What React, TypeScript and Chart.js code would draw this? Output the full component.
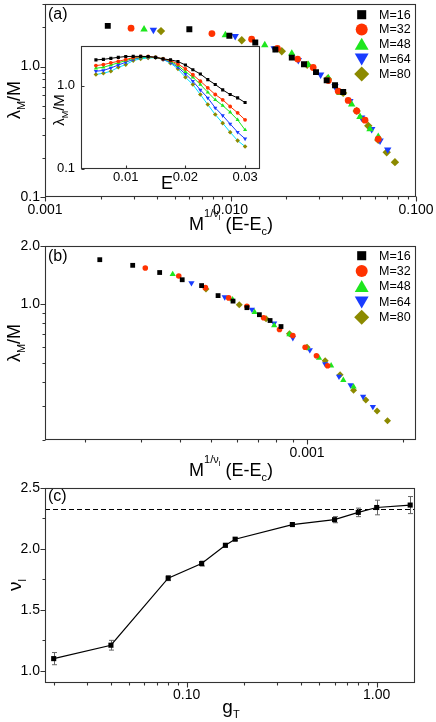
import React, { useEffect, useRef } from 'react';
import { Chart, registerables } from 'chart.js';

Chart.register(...registerables);

const FONT = "'Liberation Sans', Arial, Helvetica, sans-serif";

// ---------- series styling ----------
const seriesLabels = ['M=16', 'M=32', 'M=48', 'M=64', 'M=80'];
const markerColors = ['#000000', '#ff3200', '#1ee61e', '#193cff', '#8c8a00'];
const insetLineColors = ['#000000', '#ff3200', '#1ee61e', '#193cff', '#00e1ff'];
const markerStyles = ['rect', 'circle', 'triangle', 'triangle', 'rectRot'];
const markerRotations = [0, 0, 0, 180, 0];

// ---------- panel (a): scaled data ----------
const a16X = [0.00218, 0.006, 0.00986, 0.0136, 0.01746, 0.0214, 0.0249, 0.0289, 0.033, 0.0366, 0.0405];
const a16Y = [2.05, 1.93, 1.72, 1.53, 1.35, 1.17, 1.04, 0.906, 0.783, 0.718, 0.639];
const a32X = [0.00291, 0.00794, 0.013, 0.0179, 0.023, 0.0279, 0.0337, 0.0381, 0.0431, 0.0479, 0.0531, 0.0626];
const a32Y = [1.97, 1.79, 1.62, 1.38, 1.14, 0.983, 0.78, 0.647, 0.55, 0.457, 0.388, 0.278];
const a48X = [0.00342, 0.00938, 0.0153, 0.0214, 0.0263, 0.0337, 0.0389, 0.045, 0.0499, 0.0565, 0.0626];
const a48Y = [1.93, 1.74, 1.46, 1.26, 1.03, 0.816, 0.628, 0.513, 0.411, 0.331, 0.29];
const a64X = [0.00384, 0.0106, 0.0172, 0.0232, 0.0306, 0.0366, 0.044, 0.0509, 0.0577, 0.064, 0.0704];
const a64Y = [1.91, 1.71, 1.38, 1.12, 0.865, 0.705, 0.543, 0.406, 0.331, 0.27, 0.231];
const a80X = [0.00422, 0.0115, 0.0189, 0.0259, 0.0334, 0.0405, 0.0479, 0.0553, 0.0626, 0.0695, 0.077];
const a80Y = [1.87, 1.59, 1.31, 1.03, 0.807, 0.628, 0.457, 0.351, 0.274, 0.22, 0.185];

// ---------- inset: raw lambda_M/M vs E ----------
const insetE = [0.005, 0.00625, 0.0075, 0.00875, 0.01, 0.01125, 0.0125, 0.01375, 0.015, 0.01625, 0.0175,
  0.01875, 0.02, 0.02125, 0.0225, 0.02375, 0.025, 0.02625, 0.0275, 0.02875, 0.03];
const in16 = [2.04, 2.07, 2.13, 2.19, 2.24, 2.25, 2.25, 2.24, 2.19, 2.1, 2.04, 1.95, 1.77, 1.55, 1.38, 1.18, 1.03, 0.887, 0.78, 0.71, 0.624];
const in32 = [1.74, 1.79, 1.88, 1.96, 2.06, 2.17, 2.24, 2.24, 2.19, 2.1, 2.0, 1.82, 1.59, 1.35, 1.13, 0.94, 0.78, 0.673, 0.559, 0.469, 0.386];
const in48 = [1.62, 1.66, 1.77, 1.88, 2.0, 2.13, 2.19, 2.21, 2.19, 2.1, 1.96, 1.74, 1.47, 1.26, 1.03, 0.83, 0.673, 0.574, 0.477, 0.386, 0.292];
const in64 = [1.49, 1.52, 1.63, 1.77, 1.91, 2.07, 2.17, 2.19, 2.19, 2.07, 1.91, 1.66, 1.38, 1.13, 0.887, 0.71, 0.538, 0.435, 0.345, 0.274, 0.228];
const in80 = [1.36, 1.41, 1.49, 1.66, 1.79, 2.0, 2.1, 2.15, 2.17, 2.07, 1.86, 1.59, 1.26, 1.03, 0.78, 0.59, 0.447, 0.352, 0.274, 0.217, 0.184];

// ---------- panel (b): scaled data ----------
const b16X = [0.000223, 0.000283, 0.000344, 0.000405, 0.000466, 0.000525, 0.000585, 0.000647, 0.000708, 0.000765, 0.000828];
const b16Y = [1.7, 1.59, 1.46, 1.34, 1.25, 1.11, 1.04, 0.962, 0.885, 0.826, 0.769];
const b32X = [0.00031, 0.000395, 0.000479, 0.000567, 0.000647, 0.00073, 0.000819, 0.000902, 0.000986, 0.00107, 0.00116];
const b32Y = [1.54, 1.4, 1.22, 1.08, 0.977, 0.853, 0.742, 0.691, 0.601, 0.544, 0.483];
const b48X = [0.000378, 0.000583, 0.000684, 0.000788, 0.00088, 0.000998, 0.00109, 0.00119, 0.0013, 0.0014];
const b48Y = [1.43, 1.06, 0.912, 0.778, 0.7, 0.597, 0.53, 0.483, 0.407, 0.376];
const b64X = [0.000433, 0.000551, 0.000671, 0.000788, 0.000902, 0.00102, 0.00114, 0.00126, 0.00137, 0.0015, 0.00161];
const b64Y = [1.29, 1.09, 0.942, 0.8, 0.672, 0.582, 0.493, 0.425, 0.384, 0.335, 0.297];
const b80X = [0.000481, 0.000612, 0.000743, 0.00088, 0.001, 0.00114, 0.00127, 0.0014, 0.00153, 0.00166, 0.00179];
const b80Y = [1.2, 0.996, 0.843, 0.705, 0.601, 0.513, 0.434, 0.361, 0.322, 0.282, 0.251];

// ---------- panel (c): nu_l vs g_T ----------
const nuG = [0.02, 0.04, 0.08, 0.12, 0.16, 0.18, 0.36, 0.6, 0.8, 1.0, 1.5];
const nuV = [1.1, 1.21, 1.76, 1.88, 2.03, 2.08, 2.2, 2.24, 2.3, 2.34, 2.36];
const nuErr = [0.05, 0.04, 0.02, 0.02, 0.015, 0.012, 0.012, 0.025, 0.035, 0.06, 0.07];
const nuRef = 2.33;

// ---------- axis ranges & tick labels ----------
const aXRange = [0.001, 0.1];
const aYRange = [0.1, 3];
const aXTicks = [0.001, 0.01, 0.1];
const aXTickLabels = ['0.001', '0.010', '0.100'];
const aYTicks = [0.1, 1];
const aYTickLabels = ['0.1', '1.0'];

const bXRange = [0.00015, 0.0022];
const bYRange = [0.2, 2];
const bXTicks = [0.001];
const bXTickLabels = ['0.001'];
const bYTicks = [1, 2];
const bYTickLabels = ['1.0', '2.0'];

const cXRange = [0.018, 1.59];
const cYRange = [0.9, 2.5];
const cXTicks = [0.1, 1];
const cXTickLabels = ['0.10', '1.00'];
const cYTicks = [1.0, 1.5, 2.0, 2.5];
const cYTickLabels = ['1.0', '1.5', '2.0', '2.5'];
const cYMinor = [1.25, 1.75, 2.25];

const insetXRange = [0.0025, 0.0325];
const insetYRange = [0.1, 3];
const insetXTicks = [0.01, 0.02, 0.03];
const insetXTickLabels = ['0.01', '0.02', '0.03'];
const insetYTicks = [0.1, 1];
const insetYTickLabels = ['0.1', '1.0'];

// ---------- helpers ----------
function decadeMinors(lowExp: number, highExp: number): number[] {
  const out: number[] = [];
  for (let e = lowExp; e <= highExp; e++) {
    for (let k = 2; k <= 9; k++) out.push(Number((k * Math.pow(10, e)).toPrecision(6)));
  }
  return out;
}

type TickSpec = { value: number; major: boolean; txt: string };

function axis(type: string, pos: string, range: number[], majors: number[], labels: string[], minors: number[],
  size: number, fontSize: number, tickLen: number, pad: number) {
  const [min, max] = range;
  const spec: TickSpec[] = [
    ...majors.map((v, i) => ({ value: v, major: true, txt: labels[i] })),
    ...minors.map((v) => ({ value: v, major: false, txt: '' })),
  ].filter((t) => t.value >= min * (1 - 1e-9) && t.value <= max * (1 + 1e-9)).sort((p, q) => p.value - q.value);
  return {
    type,
    position: pos,
    min,
    max,
    offset: false,
    afterBuildTicks: (s: any) => {
      s.ticks = spec.map((t) => ({ value: t.value, major: t.major, txt: t.txt }));
    },
    afterFit: (s: any) => {
      if (pos === 'bottom') s.height = size; else s.width = size;
      s.paddingLeft = 0; s.paddingRight = 0; s.paddingTop = 0; s.paddingBottom = 0;
    },
    ticks: {
      autoSkip: false, maxRotation: 0, minRotation: 0, padding: pad, color: '#000',
      font: { family: FONT, size: fontSize },
      callback: (_v: any, i: number, ts: any[]) => (ts[i] && ts[i].txt) || '',
    },
    grid: {
      display: true, drawOnChartArea: false, drawTicks: true, tickLength: tickLen,
      color: 'rgba(0,0,0,0)', tickColor: 'rgba(0,0,0,0)',
    },
    border: { display: false },
  };
}

function frameTicksPlugin(outward: boolean, majorLen: number, minorLen: number) {
  return {
    id: 'frameTicks',
    afterDatasetsDraw(chart: any) {
      const { ctx, chartArea: a } = chart;
      const sx = chart.scales.x, sy = chart.scales.y;
      ctx.save();
      ctx.strokeStyle = '#333';
      ctx.lineWidth = 1.1;
      const l = Math.round(a.left) + 0.5, t = Math.round(a.top) + 0.5;
      const r = Math.round(a.right) - 0.5, b = Math.round(a.bottom) - 0.5;
      ctx.strokeRect(l, t, r - l, b - t);
      ctx.beginPath();
      const d = outward ? 1 : -1;
      sx.ticks.forEach((tk: any) => {
        const px = Math.round(sx.getPixelForValue(tk.value)) + 0.5;
        const len = tk.major ? majorLen : minorLen;
        ctx.moveTo(px, b);
        ctx.lineTo(px, b + d * len);
      });
      sy.ticks.forEach((tk: any) => {
        const py = Math.round(sy.getPixelForValue(tk.value)) + 0.5;
        const len = tk.major ? majorLen : minorLen;
        ctx.moveTo(l, py);
        ctx.lineTo(l - d * len, py);
      });
      ctx.stroke();
      ctx.restore();
    },
  };
}

function drawMarker(ctx: CanvasRenderingContext2D, style: string, rotDeg: number, x: number, y: number, r: number, color: string) {
  ctx.save();
  ctx.fillStyle = color;
  ctx.beginPath();
  if (style === 'circle') {
    ctx.arc(x, y, r, 0, Math.PI * 2);
  } else if (style === 'rect') {
    const s = r * Math.SQRT1_2;
    ctx.rect(x - s, y - s, 2 * s, 2 * s);
  } else if (style === 'rectRot') {
    ctx.moveTo(x, y - r); ctx.lineTo(x + r, y); ctx.lineTo(x, y + r); ctx.lineTo(x - r, y); ctx.closePath();
  } else {
    let a = (rotDeg * Math.PI) / 180;
    ctx.moveTo(x + Math.sin(a) * r, y - Math.cos(a) * r);
    a += (2 * Math.PI) / 3;
    ctx.lineTo(x + Math.sin(a) * r, y - Math.cos(a) * r);
    a += (2 * Math.PI) / 3;
    ctx.lineTo(x + Math.sin(a) * r, y - Math.cos(a) * r);
    ctx.closePath();
  }
  ctx.fill();
  ctx.restore();
}

const legendSizes = [6.4, 6, 8, 8, 7.5];

function legendPlugin(firstRow: number, rowStep: number) {
  return {
    id: 'insideLegend',
    afterDatasetsDraw(chart: any) {
      const { ctx, chartArea: a } = chart;
      seriesLabels.forEach((lab, k) => {
        const y = a.top + firstRow + k * rowStep;
        const yy = markerRotations[k] === 180 ? y - 1.5 : markerStyles[k] === 'triangle' ? y + 1.5 : y;
        drawMarker(ctx, markerStyles[k], markerRotations[k], a.right - 54.3, yy, legendSizes[k], markerColors[k]);
        ctx.save();
        ctx.fillStyle = '#000';
        ctx.font = `12.5px ${FONT}`;
        ctx.textBaseline = 'middle';
        ctx.textAlign = 'left';
        ctx.fillText(lab, a.right - 37, y + 0.5);
        ctx.restore();
      });
    },
  };
}

const whiteAreaPlugin = {
  id: 'whiteArea',
  beforeDraw(chart: any) {
    const { ctx, chartArea: a } = chart;
    ctx.save();
    ctx.fillStyle = '#fff';
    ctx.fillRect(a.left, a.top, a.right - a.left, a.bottom - a.top);
    ctx.restore();
  },
};

const errorBarPlugin = {
  id: 'errorBars',
  beforeDatasetsDraw(chart: any) {
    const { ctx, chartArea: a } = chart;
    const sx = chart.scales.x, sy = chart.scales.y;
    ctx.save();
    // reference dashed line
    const yr = Math.round(sy.getPixelForValue(nuRef)) + 0.5;
    ctx.strokeStyle = '#000';
    ctx.lineWidth = 1;
    ctx.setLineDash([5, 3]);
    ctx.beginPath();
    ctx.moveTo(a.left, yr);
    ctx.lineTo(a.right, yr);
    ctx.stroke();
    ctx.setLineDash([]);
    // error bars
    ctx.strokeStyle = '#666';
    ctx.beginPath();
    nuG.forEach((g, i) => {
      const px = Math.round(sx.getPixelForValue(g)) + 0.5;
      const y1 = sy.getPixelForValue(nuV[i] + nuErr[i]);
      const y2 = sy.getPixelForValue(nuV[i] - nuErr[i]);
      ctx.moveTo(px, y1); ctx.lineTo(px, y2);
      ctx.moveTo(px - 2.5, y1); ctx.lineTo(px + 2.5, y1);
      ctx.moveTo(px - 2.5, y2); ctx.lineTo(px + 2.5, y2);
    });
    ctx.stroke();
    ctx.restore();
  },
};

function pts(xs: number[], ys: number[]) {
  return xs.map((x, i) => ({ x, y: ys[i] }));
}

function scatterSets(series: number[][][], radii: number[]) {
  return series.map(([xs, ys], k) => ({
    label: seriesLabels[k],
    data: pts(xs, ys),
    showLine: false,
    pointStyle: markerStyles[k],
    pointRotation: markerRotations[k],
    pointRadius: radii[k],
    pointBackgroundColor: markerColors[k],
    pointBorderWidth: 0,
    pointBorderColor: markerColors[k],
  }));
}

const baseOptions = (padTop: number, padRight: number) => ({
  responsive: false,
  maintainAspectRatio: false,
  animation: false,
  devicePixelRatio: 1,
  events: [],
  layout: { padding: { left: 0, top: padTop, right: padRight, bottom: 0 } },
  plugins: { legend: { display: false }, tooltip: { enabled: false } },
});

function makeA() {
  return {
    type: 'scatter',
    data: {
      datasets: scatterSets([[a16X, a16Y], [a32X, a32Y], [a48X, a48Y], [a64X, a64Y], [a80X, a80Y]], [4.2, 3.4, 4.3, 4.3, 4.2]),
    },
    options: {
      ...baseOptions(3, 20),
      scales: {
        x: axis('logarithmic', 'bottom', aXRange, aXTicks, aXTickLabels, decadeMinors(-3, -2), 28, 14, 5, 0),
        y: axis('logarithmic', 'left', aYRange, aYTicks, aYTickLabels, decadeMinors(-1, 0), 45, 14, 5, 0),
      },
    },
    plugins: [frameTicksPlugin(true, 5, 3), legendPlugin(10.4, 14.8)],
  };
}

function makeInset() {
  const series = [in16, in32, in48, in64, in80];
  return {
    type: 'scatter',
    data: {
      datasets: series.map((ys, k) => ({
        label: seriesLabels[k],
        data: pts(insetE, ys),
        showLine: true,
        borderColor: insetLineColors[k],
        borderWidth: 1,
        tension: 0,
        pointStyle: markerStyles[k],
        pointRotation: markerRotations[k],
        pointRadius: [2.2, 1.9, 2.4, 2.4, 2.3][k],
        pointBackgroundColor: markerColors[k],
        pointBorderWidth: 0,
      })),
    },
    options: {
      ...baseOptions(8, 5),
      scales: {
        x: axis('linear', 'bottom', insetXRange, insetXTicks, insetXTickLabels, [], 29.5, 13, 1, 0),
        y: axis('logarithmic', 'left', insetYRange, insetYTicks, insetYTickLabels, [], 31, 13, 4, 2),
      },
    },
    plugins: [whiteAreaPlugin, frameTicksPlugin(false, 3, 2)],
  };
}

function makeB() {
  return {
    type: 'scatter',
    data: {
      datasets: scatterSets([[b16X, b16Y], [b32X, b32Y], [b48X, b48Y], [b64X, b64Y], [b80X, b80Y]], [3.4, 2.8, 3.6, 3.6, 3.5]),
    },
    options: {
      ...baseOptions(16, 20),
      scales: {
        x: axis('logarithmic', 'bottom', bXRange, bXTicks, bXTickLabels, decadeMinors(-4, -3), 30, 14, 5, 0),
        y: axis('logarithmic', 'left', bYRange, bYTicks, bYTickLabels, decadeMinors(-1, -1), 45, 14, 5, 0),
      },
    },
    plugins: [frameTicksPlugin(true, 5, 3), legendPlugin(9.7, 15.4)],
  };
}

function makeC() {
  return {
    type: 'scatter',
    data: {
      datasets: [{
        label: 'nu',
        data: pts(nuG, nuV),
        showLine: true,
        borderColor: '#000',
        borderWidth: 1.2,
        tension: 0,
        pointStyle: 'rect',
        pointRadius: 3.6,
        pointBackgroundColor: '#000',
        pointBorderWidth: 0,
      }],
    },
    options: {
      ...baseOptions(13, 21),
      scales: {
        x: axis('logarithmic', 'bottom', cXRange, cXTicks, cXTickLabels, decadeMinors(-2, -1), 39, 14, 5, -1),
        y: axis('linear', 'left', cYRange, cYTicks, cYTickLabels, cYMinor, 45, 14, 5, 0),
      },
    },
    plugins: [errorBarPlugin, frameTicksPlugin(true, 5, 3)],
  };
}

function ChartCanvas(props: { left: number; top: number; width: number; height: number; make: () => any }) {
  const ref = useRef<HTMLCanvasElement>(null);
  useEffect(() => {
    const chart = new Chart(ref.current as HTMLCanvasElement, props.make());
    return () => chart.destroy();
  }, []);
  const { left, top, width, height } = props;
  return (
    <canvas ref={ref} width={width} height={height}
      style={{ position: 'absolute', left, top, width, height, display: 'block' }} />
  );
}

// text placed by baseline
function Txt(props: { x: number; y: number; size: number; children: any; center?: boolean }) {
  const { x, y, size, center } = props;
  return (
    <div style={{
      position: 'absolute', left: x, top: y - 0.8465 * size, fontSize: size, lineHeight: `${size}px`,
      fontFamily: FONT, color: '#000', whiteSpace: 'nowrap',
      transform: center ? 'translateX(-50%)' : undefined,
    }}>{props.children}</div>
  );
}

function Shift(props: { size: number; dy: number; children: any }) {
  return <span style={{ fontSize: props.size, position: 'relative', top: props.dy, lineHeight: 0 }}>{props.children}</span>;
}

function VTxt(props: { cx: number; cy: number; size: number; children: any }) {
  return (
    <div style={{
      position: 'absolute', left: props.cx, top: props.cy, fontSize: props.size, lineHeight: `${props.size}px`,
      fontFamily: FONT, color: '#000', whiteSpace: 'nowrap',
      transform: 'translate(-50%, -50%) rotate(-90deg)',
    }}>{props.children}</div>
  );
}

function XTitle(props: { y: number }) {
  return (
    <Txt x={231} y={props.y} size={18} center>
      M<Shift size={11} dy={-13}>1/ν<Shift size={8} dy={3}>l</Shift></Shift> (E-E<Shift size={11} dy={5}>c</Shift>)
    </Txt>
  );
}

function LambdaTitle(props: { cx: number; cy: number; size: number }) {
  const s = props.size;
  return (
    <VTxt cx={props.cx} cy={props.cy} size={s}>
      λ<Shift size={Math.round(s * 0.62)} dy={Math.round(s * 0.28)}>M</Shift>/M
    </VTxt>
  );
}

export default function App() {
  return (
    <div style={{ position: 'absolute', left: 0, top: 0, width: 436, height: 722, background: '#fff', overflow: 'hidden' }}>
      <ChartCanvas left={0} top={0} width={436} height={225} make={makeA} />
      <ChartCanvas left={0} top={230} width={436} height={240} make={makeB} />
      <ChartCanvas left={0} top={475} width={436} height={247} make={makeC} />
      <ChartCanvas left={50} top={38} width={215} height={160} make={makeInset} />

      <Txt x={48} y={19.7} size={16}>(a)</Txt>
      <Txt x={48} y={261.7} size={16}>(b)</Txt>
      <Txt x={48} y={501.7} size={16}>(c)</Txt>

      <XTitle y={230} />
      <XTitle y={476.5} />
      <Txt x={231} y={713} size={19} center>g<Shift size={11} dy={5}>T</Shift></Txt>
      <Txt x={167} y={189.5} size={18} center>E</Txt>

      <LambdaTitle cx={14} cy={100} size={18} />
      <LambdaTitle cx={14} cy={343} size={18} />
      <LambdaTitle cx={58} cy={110} size={15} />
      <VTxt cx={14} cy={585} size={19}>ν<Shift size={11} dy={5}>l</Shift></VTxt>
    </div>
  );
}
